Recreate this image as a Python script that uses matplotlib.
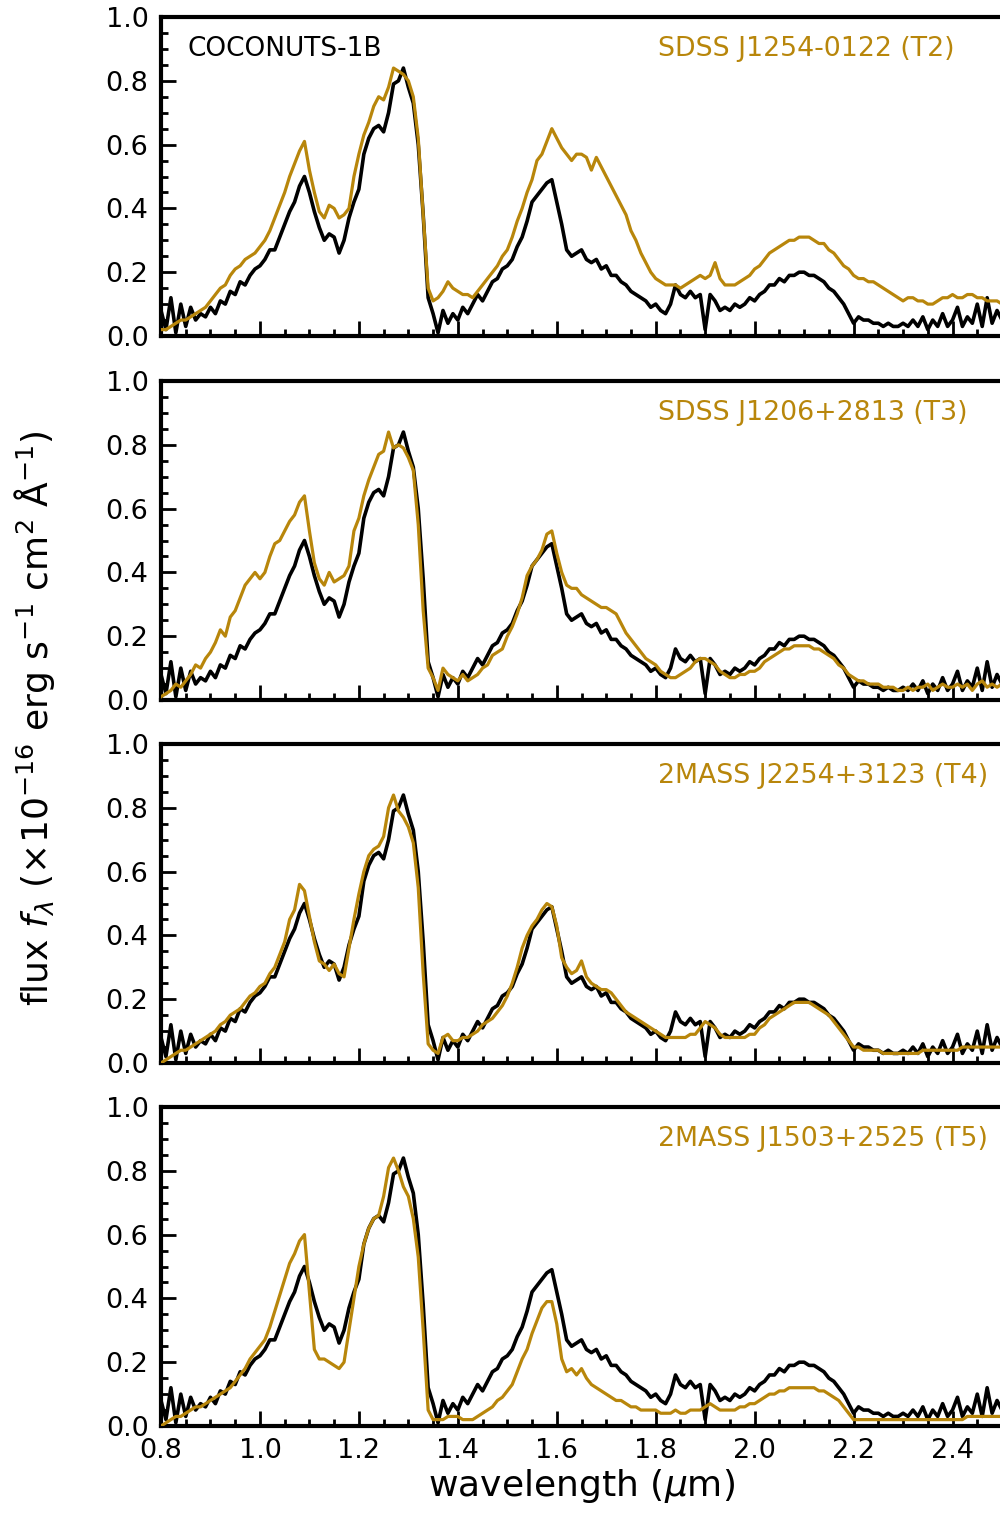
import numpy as np
import matplotlib

matplotlib.use("Agg")
import matplotlib.pyplot as plt
from matplotlib.ticker import MultipleLocator

# wavelength grid (um), 0.01 um sampling
wave = np.linspace(0.80, 2.50, 171)

# COCONUTS-1B spectrum (normalised flux)
coconuts = [
    0.08, 0.02, 0.12, 0.01, 0.10, 0.03, 0.09, 0.05, 0.07, 0.06,
    0.09, 0.07, 0.11, 0.10, 0.14, 0.13, 0.17, 0.16, 0.19, 0.21,
    0.22, 0.24, 0.27, 0.27, 0.31, 0.35, 0.39, 0.42, 0.47, 0.50,
    0.45, 0.39, 0.34, 0.30, 0.32, 0.31, 0.26, 0.30, 0.37, 0.42,
    0.46, 0.57, 0.62, 0.65, 0.66, 0.64, 0.70, 0.79, 0.80, 0.84,
    0.78, 0.73, 0.60, 0.38, 0.12, 0.07, 0.01, 0.08, 0.04, 0.07,
    0.05, 0.09, 0.07, 0.10, 0.13, 0.11, 0.14, 0.17, 0.18, 0.21,
    0.22, 0.24, 0.28, 0.31, 0.36, 0.42, 0.44, 0.46, 0.48, 0.49,
    0.42, 0.35, 0.27, 0.25, 0.26, 0.27, 0.24, 0.23, 0.24, 0.21,
    0.22, 0.19, 0.19, 0.17, 0.16, 0.14, 0.13, 0.12, 0.11, 0.09,
    0.10, 0.08, 0.07, 0.10, 0.16, 0.13, 0.12, 0.14, 0.12, 0.13,
    0.02, 0.13, 0.11, 0.08, 0.09, 0.08, 0.10, 0.09, 0.10, 0.12,
    0.11, 0.13, 0.14, 0.16, 0.16, 0.18, 0.17, 0.19, 0.19, 0.20,
    0.20, 0.19, 0.19, 0.18, 0.17, 0.15, 0.14, 0.12, 0.10, 0.07,
    0.04, 0.06, 0.05, 0.05, 0.04, 0.04, 0.03, 0.04, 0.03, 0.03,
    0.04, 0.03, 0.05, 0.03, 0.06, 0.02, 0.05, 0.03, 0.07, 0.03,
    0.05, 0.09, 0.03, 0.06, 0.04, 0.10, 0.03, 0.12, 0.04, 0.08,
    0.05,
]

# template spectra
t2 = [
    0.02, 0.02, 0.03, 0.04, 0.05, 0.05, 0.06, 0.07, 0.08, 0.09,
    0.11, 0.13, 0.15, 0.16, 0.19, 0.21, 0.22, 0.24, 0.25, 0.26,
    0.28, 0.30, 0.33, 0.37, 0.41, 0.45, 0.50, 0.54, 0.58, 0.61,
    0.52, 0.45, 0.39, 0.37, 0.41, 0.40, 0.37, 0.38, 0.40, 0.50,
    0.57, 0.63, 0.67, 0.72, 0.75, 0.74, 0.78, 0.84, 0.83, 0.82,
    0.80, 0.75, 0.62, 0.38, 0.15, 0.11, 0.12, 0.14, 0.17, 0.15,
    0.14, 0.13, 0.13, 0.12, 0.14, 0.16, 0.18, 0.20, 0.22, 0.25,
    0.27, 0.31, 0.36, 0.40, 0.45, 0.49, 0.55, 0.57, 0.61, 0.65,
    0.62, 0.59, 0.57, 0.55, 0.57, 0.57, 0.56, 0.52, 0.56, 0.53,
    0.50, 0.47, 0.44, 0.41, 0.38, 0.33, 0.30, 0.26, 0.23, 0.20,
    0.18, 0.17, 0.16, 0.16, 0.16, 0.15, 0.16, 0.17, 0.18, 0.19,
    0.18, 0.19, 0.23, 0.18, 0.16, 0.16, 0.16, 0.17, 0.18, 0.19,
    0.21, 0.22, 0.24, 0.26, 0.27, 0.28, 0.29, 0.30, 0.30, 0.31,
    0.31, 0.31, 0.30, 0.29, 0.29, 0.27, 0.26, 0.24, 0.22, 0.21,
    0.19, 0.18, 0.18, 0.17, 0.17, 0.16, 0.15, 0.14, 0.13, 0.12,
    0.11, 0.12, 0.12, 0.11, 0.11, 0.10, 0.10, 0.11, 0.12, 0.12,
    0.13, 0.12, 0.12, 0.13, 0.13, 0.12, 0.12, 0.11, 0.11, 0.11,
    0.10,
]

t3 = [
    0.01, 0.02, 0.03, 0.05, 0.04, 0.06, 0.08, 0.11, 0.10, 0.13,
    0.15, 0.18, 0.22, 0.20, 0.26, 0.28, 0.32, 0.36, 0.38, 0.40,
    0.38, 0.40, 0.45, 0.49, 0.50, 0.53, 0.56, 0.58, 0.62, 0.64,
    0.53, 0.43, 0.38, 0.36, 0.40, 0.37, 0.38, 0.39, 0.42, 0.53,
    0.57, 0.64, 0.69, 0.73, 0.77, 0.78, 0.84, 0.79, 0.80, 0.79,
    0.76, 0.72, 0.55, 0.28, 0.10, 0.07, 0.03, 0.10, 0.08, 0.07,
    0.06, 0.08, 0.06, 0.07, 0.08, 0.10, 0.11, 0.14, 0.15, 0.16,
    0.20, 0.23, 0.27, 0.32, 0.39, 0.42, 0.44, 0.47, 0.52, 0.53,
    0.46, 0.40, 0.36, 0.35, 0.35, 0.33, 0.32, 0.31, 0.30, 0.29,
    0.29, 0.28, 0.27, 0.24, 0.21, 0.19, 0.17, 0.15, 0.13, 0.12,
    0.11, 0.09, 0.08, 0.07, 0.07, 0.08, 0.09, 0.10, 0.12, 0.13,
    0.13, 0.12, 0.11, 0.09, 0.08, 0.07, 0.07, 0.08, 0.08, 0.09,
    0.09, 0.10, 0.12, 0.13, 0.14, 0.15, 0.16, 0.16, 0.17, 0.17,
    0.17, 0.17, 0.16, 0.16, 0.15, 0.14, 0.13, 0.11, 0.10, 0.08,
    0.07, 0.06, 0.06, 0.05, 0.05, 0.05, 0.04, 0.04, 0.04, 0.03,
    0.03, 0.04, 0.03, 0.04, 0.04, 0.05, 0.03, 0.04, 0.05, 0.04,
    0.04, 0.05, 0.04, 0.05, 0.03, 0.05, 0.06, 0.04, 0.05, 0.04,
    0.05,
]

t4 = [
    0.00, 0.01, 0.02, 0.03, 0.04, 0.04, 0.05, 0.06, 0.07, 0.08,
    0.09, 0.10, 0.12, 0.13, 0.15, 0.16, 0.17, 0.19, 0.21, 0.22,
    0.24, 0.25, 0.28, 0.30, 0.34, 0.38, 0.45, 0.48, 0.56, 0.54,
    0.46, 0.38, 0.32, 0.31, 0.29, 0.31, 0.28, 0.27, 0.36, 0.45,
    0.53, 0.60, 0.65, 0.67, 0.68, 0.71, 0.80, 0.84, 0.79, 0.77,
    0.74, 0.69, 0.55, 0.28, 0.06, 0.04, 0.03, 0.08, 0.09, 0.07,
    0.07, 0.08, 0.08, 0.09, 0.10, 0.12, 0.13, 0.14, 0.16, 0.18,
    0.21, 0.25, 0.30, 0.36, 0.40, 0.43, 0.45, 0.48, 0.50, 0.49,
    0.43, 0.33, 0.30, 0.28, 0.29, 0.32, 0.27, 0.25, 0.24, 0.23,
    0.23, 0.22, 0.20, 0.18, 0.16, 0.15, 0.14, 0.13, 0.12, 0.11,
    0.10, 0.09, 0.08, 0.08, 0.08, 0.08, 0.08, 0.09, 0.09, 0.11,
    0.13, 0.12, 0.11, 0.09, 0.08, 0.08, 0.08, 0.08, 0.08, 0.09,
    0.09, 0.11, 0.12, 0.14, 0.15, 0.16, 0.17, 0.18, 0.19, 0.19,
    0.19, 0.19, 0.18, 0.17, 0.16, 0.15, 0.13, 0.11, 0.09, 0.07,
    0.05, 0.05, 0.04, 0.04, 0.04, 0.04, 0.03, 0.03, 0.03, 0.03,
    0.03, 0.03, 0.03, 0.03, 0.04, 0.04, 0.04, 0.04, 0.04, 0.04,
    0.04, 0.04, 0.05, 0.05, 0.05, 0.05, 0.05, 0.05, 0.05, 0.05,
    0.05,
]

t5 = [
    0.00, 0.01, 0.02, 0.03, 0.03, 0.04, 0.05, 0.06, 0.06, 0.07,
    0.08, 0.09, 0.10, 0.11, 0.12, 0.14, 0.16, 0.18, 0.21, 0.23,
    0.25, 0.27, 0.31, 0.36, 0.41, 0.46, 0.51, 0.54, 0.58, 0.60,
    0.42, 0.24, 0.21, 0.21, 0.20, 0.19, 0.18, 0.20, 0.30, 0.40,
    0.50, 0.57, 0.62, 0.65, 0.66, 0.72, 0.81, 0.84, 0.80, 0.75,
    0.72, 0.65, 0.53, 0.30, 0.05, 0.02, 0.02, 0.02, 0.03, 0.03,
    0.03, 0.02, 0.02, 0.02, 0.03, 0.04, 0.05, 0.06, 0.08, 0.09,
    0.11, 0.13, 0.17, 0.21, 0.24, 0.29, 0.33, 0.37, 0.39, 0.39,
    0.32, 0.21, 0.17, 0.18, 0.16, 0.18, 0.15, 0.13, 0.12, 0.11,
    0.10, 0.09, 0.08, 0.08, 0.07, 0.06, 0.06, 0.05, 0.05, 0.05,
    0.05, 0.04, 0.04, 0.04, 0.05, 0.04, 0.04, 0.05, 0.05, 0.05,
    0.06, 0.07, 0.06, 0.05, 0.05, 0.05, 0.05, 0.06, 0.06, 0.07,
    0.07, 0.08, 0.09, 0.10, 0.10, 0.11, 0.11, 0.12, 0.12, 0.12,
    0.12, 0.12, 0.12, 0.11, 0.11, 0.10, 0.09, 0.08, 0.06, 0.04,
    0.02, 0.02, 0.02, 0.02, 0.02, 0.02, 0.02, 0.02, 0.02, 0.02,
    0.02, 0.02, 0.02, 0.02, 0.02, 0.02, 0.02, 0.02, 0.02, 0.02,
    0.02, 0.02, 0.02, 0.03, 0.03, 0.03, 0.03, 0.03, 0.03, 0.03,
    0.03,
]

templates = [t2, t3, t4, t5]
names = ["SDSS J1254-0122 (T2)", "SDSS J1206+2813 (T3)",
         "2MASS J2254+3123 (T4)", "2MASS J1503+2525 (T5)"]

GOLD = "#b8860b"

fig = plt.figure(figsize=(10, 15.14), dpi=100)

left, width = 0.161, 0.841
height = 319 / 1514
tops = [17, 381, 744, 1107]

for i, (flux, name) in enumerate(zip(templates, names)):
    bottom = 1 - (tops[i] + 319) / 1514
    ax = fig.add_axes([left, bottom, width, height])
    ax.plot(wave, coconuts, color="black", lw=2.6, zorder=2)
    ax.plot(wave, flux, color=GOLD, lw=2.3, zorder=3)
    ax.set_xlim(0.8, 2.5)
    ax.set_ylim(0.0, 1.0)
    ax.xaxis.set_major_locator(MultipleLocator(0.2))
    ax.xaxis.set_minor_locator(MultipleLocator(0.05))
    ax.yaxis.set_major_locator(MultipleLocator(0.2))
    ax.yaxis.set_minor_locator(MultipleLocator(0.05))
    ax.tick_params(which="both", direction="in", top=False, right=False,
                   labelsize=19.5, width=2, pad=9)
    ax.tick_params(which="major", length=11)
    ax.tick_params(which="minor", length=5)
    ax.yaxis.set_major_formatter(plt.FormatStrFormatter("%.1f"))
    ax.xaxis.set_major_formatter(plt.FormatStrFormatter("%.1f"))
    for side in ("left", "top", "bottom"):
        ax.spines[side].set_linewidth(3)
    ax.spines["right"].set_visible(False)
    if i < 3:
        ax.tick_params(labelbottom=False)
    else:
        ax.set_xlabel(r"wavelength ($\mu$m)", fontsize=26, labelpad=2)
    if i == 0:
        ax.text(0.031, 0.90, "COCONUTS-1B", transform=ax.transAxes,
                fontsize=19, ha="left", va="center")
    ax.text(0.591, 0.90, name, transform=ax.transAxes, color=GOLD,
            fontsize=19.3, ha="left", va="center")

fig.text(0.035, 0.526,
         r"flux $f_\lambda$ ($\times10^{-16}$ erg s$^{-1}$ cm$^2$ $\mathrm{\AA}^{-1}$)",
         rotation=90, fontsize=26, ha="center", va="center")

fig.savefig("out.png", dpi=100)
